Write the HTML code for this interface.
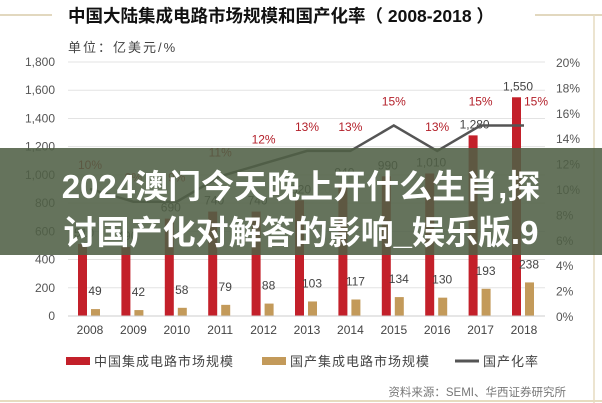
<!DOCTYPE html>
<html><head><meta charset="utf-8"><style>
body{margin:0;background:#fff;}
#wrap{position:relative;width:602px;height:403px;overflow:hidden;background:#fff;font-family:"Liberation Sans","Noto Sans CJK SC",sans-serif;}
#banner{position:absolute;left:0;top:148px;width:602px;height:107px;background:rgba(80,96,70,0.88);}
.bt{position:absolute;left:0;width:602px;text-align:center;color:#fff;font-weight:bold;font-size:33px;font-family:"Liberation Sans","Noto Sans CJK SC",sans-serif;white-space:nowrap;}
</style></head><body>
<div id="wrap">
<svg id="svg" width="602" height="403"></svg>
<div id="banner">
<div class="bt" style="top:12px">2024澳门今天晚上开什么生肖,探</div>
<div class="bt" style="top:58px">讨国产化对解答的影响_娱乐版.9</div>
</div>
</div>
<script>
const years=["2008","2009","2010","2011","2012","2013","2014","2015","2016","2017","2018"];
const market=[510,490,690,740,740,820,940,990,1010,1280,1550];
const domestic=[49,42,58,79,88,103,117,134,130,193,238];
const rate=[10,9,9,11,12,13,13,15,13,15,15];
const leftTicks=[0,200,400,600,800,1000,1200,1400,1600,1800];
const rightTicks=[0,2,4,6,8,10,12,14,16,18,20];
const NS="http://www.w3.org/2000/svg";
const svg=document.getElementById('svg');
function el(t,a,p){const e=document.createElementNS(NS,t);for(const k in a)e.setAttribute(k,a[k]);(p||svg).appendChild(e);return e;}
const y0=316,y1=62,x0=68,x1=545;
const yL=v=>y0-(v/1800)*(y0-y1);
const yR=v=>y0-(v/20)*(y0-y1);
const xC=i=>90+i*43.4;
const fmt=v=>v.toLocaleString('en-US');
let e;
e=el('line',{x1:0,y1:15,x2:52,y2:15,stroke:'#d8ccaa','stroke-width':1.5});

e=el('line',{x1:535,y1:15,x2:602,y2:15,stroke:'#d8ccaa','stroke-width':1.5});

e=el('line',{x1:594,y1:15,x2:594,y2:403,stroke:'#e6dcc0','stroke-width':1.5});

e=el('line',{x1:0,y1:401,x2:602,y2:401,stroke:'#e6dcc0','stroke-width':2});

e=el('text',{x:68,y:22,'font-size':17.5,'font-weight':'bold',fill:'#111'});e.textContent='中国大陆集成电路市场规模和国产化率（ 2008-2018 ）';

e=el('text',{x:68,y:52,'font-size':13,fill:'#444','letter-spacing':2});e.textContent='单位：亿美元/%';

leftTicks.forEach(v=>{
 e=el('line',{x1:x0,x2:x1,y1:yL(v),y2:yL(v),stroke:'#e3e3e3','stroke-width':1});
 
 e=el('text',{x:55,y:yL(v)+4,'font-size':12,fill:'#555','text-anchor':'end'});e.textContent=fmt(v);
 
});
rightTicks.forEach(v=>{
 e=el('text',{x:556,y:yR(v)+5,'font-size':12,fill:'#555'});e.textContent=v+'%';
 
});
years.forEach((yr,i)=>{
 const c=xC(i);
 e=el('rect',{x:c-12,y:yL(market[i]),width:9,height:y0-yL(market[i]),fill:'#c3202a'});
 
 e=el('rect',{x:c+1,y:yL(domestic[i]),width:9,height:y0-yL(domestic[i]),fill:'#c39a5a'});
 
 e=el('text',{x:c+5,y:yL(domestic[i])-14,'font-size':12,fill:'#444','text-anchor':'middle'});e.textContent=domestic[i];
 
 e=el('text',{x:c-6,y:yL(market[i])-7,'font-size':12,fill:'#444','text-anchor':'middle'});e.textContent=fmt(market[i]);
 
 e=el('text',{x:c,y:334,'font-size':12,fill:'#444','text-anchor':'middle'});e.textContent=yr;
 
});
e=el('line',{x1:x0,x2:x1,y1:y0,y2:y0,stroke:'#ccc'});

e=el('polyline',{points:rate.map((r,i)=>xC(i)+','+yR(r)).join(' '),fill:'none',stroke:'#555','stroke-width':2.5});

rate.forEach((r,i)=>{
 const dx=i==10?12:0;
 e=el('text',{x:xC(i)+dx,y:yR(r)-20,'font-size':12,fill:'#b3202a','text-anchor':'middle'});e.textContent=r+'%';
 
});
const lg=[['#c3202a','中国集成电路市场规模',66,'rect'],['#c39a5a','国产集成电路市场规模',262,'rect'],['#555','国产化率',455,'line']];
lg.forEach(l=>{
 if(l[3]=='rect'){e=el('rect',{x:l[2],y:357,width:24,height:8,fill:l[0]});}
 else{e=el('line',{x1:l[2],x2:l[2]+24,y1:361,y2:361,stroke:l[0],'stroke-width':3});}
 
 e=el('text',{x:l[2]+28,y:366,'font-size':13,fill:'#444','letter-spacing':1});e.textContent=l[1];
 
});
e=el('text',{x:566,y:396,'font-size':11.5,fill:'#777','text-anchor':'end'});e.textContent='资料来源：SEMI、华西证券研究所';

</script>
</body></html>
